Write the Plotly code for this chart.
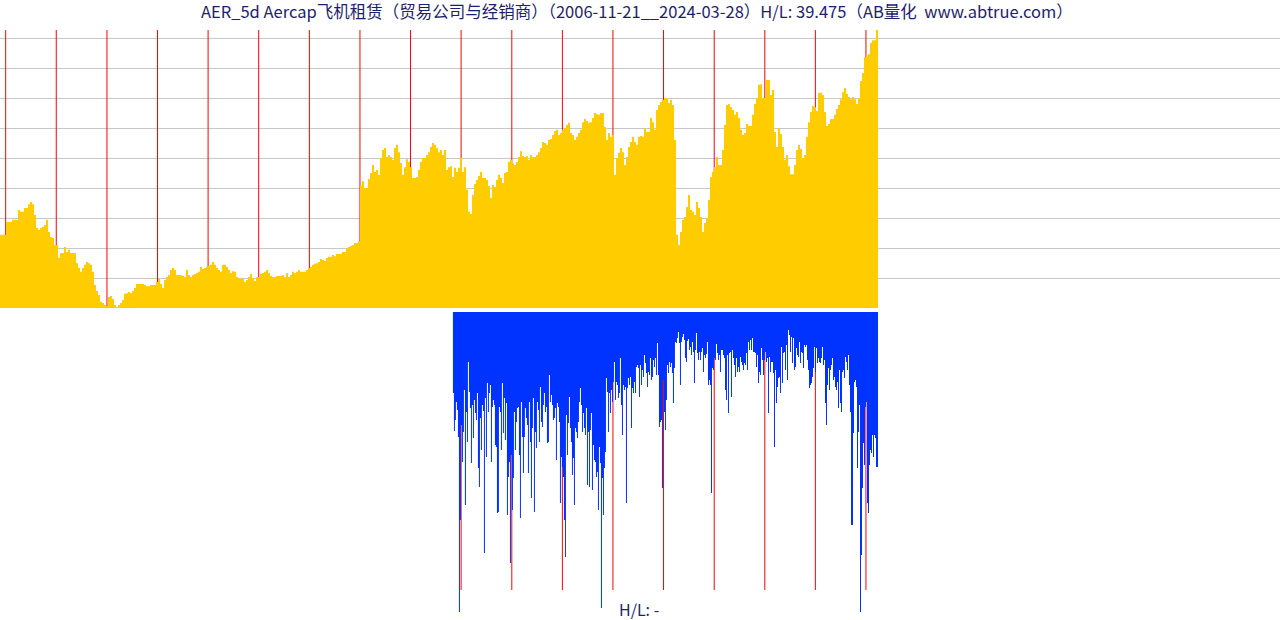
import pandas as pd
import plotly.graph_objects as go

# ---------------- data ----------------
START = "2006-11-21"
END = "2024-03-28"
BOTTOM_START = "2015-11-03"

# AER weekly close (USD) (about every second bar)
top_price = [
    22.7, 22.7, 22.7, 26.4, 26.4, 26.4, 27.0, 27.0, 27.0, 29.8,
    29.3, 29.3, 30.4, 30.4, 31.5, 32.1, 31.5, 28.4, 24.7, 24.1,
    24.7, 25.0, 25.5, 27.0, 23.5, 22.1, 21.8, 19.8, 19.8, 16.1,
    17.5, 17.5, 19.2, 17.8, 18.4, 17.5, 17.5, 17.5, 14.6, 13.2,
    12.1, 13.2, 14.1, 14.9, 14.6, 14.1, 12.1, 8.3, 6.6, 5.5,
    3.5, 3.2, 2.6, 2.3, 4.9, 5.2, 4.3, 2.6, 2.0, 2.6,
    3.2, 4.0, 5.8, 6.0, 6.3, 6.0, 6.6, 7.5, 8.6, 8.6,
    8.6, 8.6, 8.3, 8.0, 8.0, 8.3, 8.3, 8.3, 9.2, 10.1,
    8.6, 7.5, 9.8, 10.6, 11.2, 12.6, 13.2, 12.6, 11.2, 11.2,
    11.2, 10.9, 10.6, 12.6, 11.2, 10.6, 11.2, 11.5, 11.8, 12.1,
    13.5, 12.9, 13.2, 13.5, 13.8, 14.1, 14.9, 14.1, 13.2, 12.6,
    12.1, 14.1, 14.1, 13.5, 12.6, 11.8, 12.3, 12.1, 10.6, 10.3,
    10.1, 10.1, 9.2, 9.8, 10.6, 11.5, 10.3, 9.5, 10.6, 10.6,
    11.5, 11.8, 12.1, 12.6, 11.8, 10.9, 10.6, 10.6, 10.9, 10.9,
    10.9, 11.2, 10.6, 11.8, 10.6, 11.2, 12.1, 11.8, 12.1, 12.6,
    12.1, 12.1, 12.1, 12.6, 13.2, 13.5, 14.1, 14.4, 14.6, 14.9,
    15.8, 15.5, 15.2, 16.1, 16.4, 16.4, 16.9, 16.6, 17.2, 17.2,
    17.2, 17.8, 17.8, 18.9, 19.2, 19.5, 19.8, 20.4, 20.4, 20.9,
    36.7, 38.1, 36.1, 36.1, 38.7, 40.4, 42.7, 40.7, 41.3, 39.9,
    44.7, 47.0, 47.6, 45.0, 45.6, 45.0, 44.2, 47.6, 48.5, 46.4,
    43.3, 39.9, 42.1, 44.4, 43.6, 42.1, 39.0, 39.0, 39.3, 41.3,
    43.6, 44.7, 44.7, 45.6, 46.4, 47.9, 49.0, 48.5, 47.6, 46.4,
    47.0, 45.6, 47.0, 41.3, 42.1, 42.4, 39.3, 41.9, 40.7, 41.9,
    44.7, 40.7, 42.1, 35.6, 29.3, 28.7, 34.1, 37.3, 38.4, 39.6,
    40.7, 39.0, 39.0, 38.4, 36.7, 33.3, 37.0, 36.4, 38.4, 39.9,
    39.0, 37.6, 40.4, 40.7, 43.6, 44.2, 43.3, 42.7, 43.6, 45.0,
    46.7, 45.3, 45.0, 45.3, 44.2, 45.6, 45.0, 45.0, 45.6, 46.4,
    47.6, 49.3, 49.0, 48.5, 49.9, 50.2, 51.3, 52.5, 52.8, 51.3,
    51.9, 52.8, 53.3, 54.2, 54.8, 51.9, 51.3, 49.9, 50.8, 51.9,
    52.8, 55.0, 55.9, 55.3, 54.8, 55.0, 56.2, 57.6, 57.3, 57.1,
    57.6, 57.6, 53.6, 49.9, 51.9, 50.8, 51.3, 39.9, 44.7, 46.2,
    47.6, 46.4, 42.7, 45.0, 47.9, 49.3, 50.8, 49.3, 48.5, 50.8,
    51.0, 50.8, 53.3, 52.2, 52.2, 56.2, 55.0, 52.8, 58.5, 59.9,
    60.8, 61.4, 61.9, 61.9, 60.5, 61.4, 59.9, 49.9, 22.7, 19.8,
    23.5, 27.0, 27.8, 30.7, 34.1, 29.8, 29.3, 28.4, 32.1, 30.4,
    27.8, 23.5, 26.1, 27.5, 32.7, 39.3, 40.7, 42.1, 45.0, 42.7,
    42.7, 47.0, 54.2, 59.9, 60.2, 59.3, 58.5, 57.1, 57.9, 56.2,
    52.8, 51.3, 51.9, 54.5, 53.9, 53.9, 57.1, 60.2, 61.9, 65.7,
    65.9, 61.9, 61.9, 67.1, 67.1, 62.8, 64.2, 52.2, 47.9, 53.3,
    51.6, 47.9, 44.2, 45.6, 42.4, 40.1, 40.1, 42.7, 47.0, 48.5,
    47.3, 44.7, 45.6, 50.8, 55.0, 57.9, 59.6, 59.3, 58.2, 63.4,
    63.4, 62.8, 57.9, 53.9, 54.5, 55.9, 55.9, 57.1, 58.8, 59.9,
    61.6, 63.6, 64.8, 63.1, 62.2, 61.6, 62.2, 61.6, 60.2, 61.9,
    66.8, 69.1, 73.7, 74.2, 74.5, 77.7, 78.5, 78.5, 81.4, 86.3,
]

# lower panel: weekly depth values (arbitrary units, 0 = top)
bottom_depth = [
    81, 119, 108, 90, 98, 125, 300, 208, 113, 150,
    120, 78, 193, 100, 130, 50, 80, 96, 151, 93,
    126, 88, 101, 108, 81, 156, 175, 106, 138, 93,
    99, 241, 86, 145, 71, 100, 81, 73, 150, 95,
    88, 93, 133, 135, 201, 200, 95, 100, 138, 71,
    121, 86, 128, 91, 203, 165, 150, 251, 143, 198,
    166, 100, 138, 110, 96, 95, 143, 206, 90, 125,
    161, 125, 96, 106, 113, 161, 90, 130, 186, 116,
    86, 200, 120, 136, 90, 98, 130, 75, 110, 115,
    93, 81, 100, 95, 131, 130, 63, 90, 83, 93,
    108, 106, 96, 148, 91, 95, 110, 191, 145, 155,
    165, 208, 245, 103, 143, 111, 85, 116, 130, 163,
    146, 193, 116, 120, 126, 110, 90, 76, 93, 120,
    101, 116, 123, 96, 173, 120, 175, 118, 101, 178,
    133, 148, 150, 165, 160, 198, 135, 151, 296, 166,
    203, 156, 140, 66, 80, 120, 81, 101, 78, 90,
    70, 50, 88, 70, 73, 86, 81, 46, 93, 123,
    73, 78, 75, 191, 76, 66, 73, 65, 116, 76,
    81, 70, 81, 55, 53, 56, 85, 53, 73, 58,
    65, 43, 51, 61, 75, 60, 63, 46, 68, 65,
    48, 55, 46, 63, 31, 63, 115, 110, 108, 176,
    68, 100, 118, 88, 53, 61, 50, 55, 51, 61,
    91, 56, 30, 31, 26, 20, 31, 73, 30, 25,
    22, 28, 46, 50, 29, 27, 38, 35, 43, 30,
    40, 71, 38, 21, 41, 48, 40, 48, 40, 36,
    60, 43, 46, 42, 30, 73, 68, 73, 181, 56,
    58, 46, 48, 32, 41, 48, 43, 60, 38, 38,
    43, 46, 78, 88, 43, 101, 41, 40, 85, 38,
    46, 53, 65, 46, 60, 55, 60, 45, 50, 53,
    58, 51, 53, 41, 58, 30, 38, 28, 38, 26,
    40, 40, 41, 55, 43, 71, 60, 63, 36, 48,
    63, 48, 40, 50, 46, 101, 45, 60, 50, 50,
    61, 135, 58, 91, 75, 66, 65, 81, 35, 71,
    41, 40, 58, 33, 68, 18, 23, 40, 25, 51,
    26, 58, 55, 36, 43, 45, 30, 51, 40, 41,
    56, 33, 35, 33, 48, 58, 76, 73, 71, 65,
    56, 35, 60, 36, 51, 46, 50, 51, 46, 35,
    53, 48, 91, 113, 73, 56, 78, 58, 53, 46,
    68, 65, 75, 78, 70, 96, 58, 91, 100, 60,
    58, 66, 45, 50, 58, 43, 73, 100, 213, 213,
    121, 70, 68, 75, 156, 120, 93, 300, 243, 176,
    131, 153, 95, 90, 191, 201, 153, 138, 141, 123,
    145, 123, 126, 155, 155, 211,
]

year_starts = list(range(2007, 2025))
bottom_year_starts = list(range(2016, 2025))

PRICE_LOW = 1.74
PRICE_HIGH = 87.72
YEAR_LINE_TOP = 81.4
DEPTH_MAX = 300
BOTTOM_LINE_END = 278

TITLE = ("AER_5d Aercap飞机租赁（贸易公司与经销商）（2006-11-21__2024-03-28）"
         "H/L: 39.475（AB量化  www.abtrue.com）")
SUBTITLE = "H/L: -"

# ---------------- figure ----------------
W, H = 1280, 620
top_dates = pd.date_range(START, END, periods=len(top_price))
bottom_dates = pd.date_range(BOTTOM_START, END, periods=len(bottom_depth))
t0 = pd.Timestamp(START)
span = pd.Timestamp(END) - t0
x_right = t0 + span * (1280 / 878)


def vlines(years, y0, y1):
    xs, ys = [], []
    for yr in years:
        d = f"{yr}-01-01"
        xs += [d, d, None]
        ys += [y0, y1, None]
    return xs, ys


YELLOW = "#FFCC00"
BLUE = "#0033FF"
RED = "#FF0000"
TEXT = "#1E1E6E"

fig = go.Figure()

lx, ly = vlines(year_starts, PRICE_LOW, YEAR_LINE_TOP)
fig.add_trace(go.Scatter(x=lx, y=ly, mode="lines", line=dict(color=RED, width=1),
                         hoverinfo="skip", xaxis="x", yaxis="y"))
fig.add_trace(go.Scatter(x=top_dates, y=top_price, mode="lines", line_shape="hv",
                         line=dict(color=YELLOW, width=0), fill="tozeroy",
                         fillcolor=YELLOW, xaxis="x", yaxis="y"))

bx, by = vlines(bottom_year_starts, 0, BOTTOM_LINE_END)
fig.add_trace(go.Scatter(x=bx, y=by, mode="lines", line=dict(color=RED, width=1),
                         hoverinfo="skip", xaxis="x2", yaxis="y2"))
fig.add_trace(go.Scatter(x=bottom_dates, y=bottom_depth, mode="lines", line_shape="hv",
                         line=dict(color=BLUE, width=0), fill="tozeroy",
                         fillcolor=BLUE, xaxis="x2", yaxis="y2"))

step = (PRICE_HIGH - PRICE_LOW) / 10
grid_vals = [PRICE_LOW + k * step for k in range(1, 10)]

axis_common = dict(showticklabels=False, showline=False, zeroline=False,
                   ticks="", fixedrange=True)

fig.update_layout(
    width=W, height=H,
    margin=dict(l=0, r=0, t=0, b=0),
    paper_bgcolor="white", plot_bgcolor="white",
    showlegend=False,
    xaxis=dict(domain=[0, 1], range=[t0, x_right], showgrid=False, anchor="y",
               **axis_common),
    xaxis2=dict(domain=[0, 1], range=[t0, x_right], showgrid=False, anchor="y2",
                matches="x", **axis_common),
    yaxis=dict(domain=[(H - 308) / H, (H - 8) / H], range=[PRICE_LOW, PRICE_HIGH],
               tickmode="array", tickvals=grid_vals, showgrid=True,
               gridcolor="#C8C8C8", gridwidth=1, anchor="x", **axis_common),
    yaxis2=dict(domain=[(H - 612) / H, (H - 312) / H], range=[DEPTH_MAX, 0],
                showgrid=False, anchor="x2", **axis_common),
    annotations=[
        dict(text=TITLE, xref="paper", yref="paper", x=637 / W, y=1 - 11 / H,
             xanchor="center", yanchor="middle", showarrow=False,
             font=dict(family="Noto Sans CJK SC", size=16.5, color=TEXT)),
        dict(text=SUBTITLE, xref="paper", yref="paper", x=639 / W, y=1 - 609 / H,
             xanchor="center", yanchor="middle", showarrow=False,
             font=dict(family="Noto Sans CJK SC", size=16, color=TEXT)),
    ],
)

fig.write_html("out.html")
